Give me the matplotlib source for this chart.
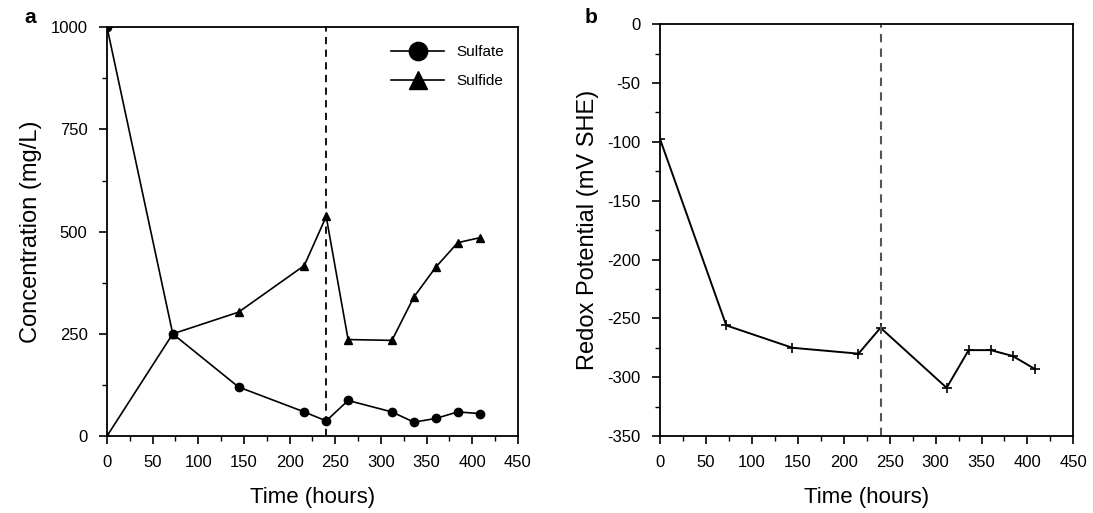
import numpy as np
import matplotlib.pyplot as plt
from matplotlib.ticker import MultipleLocator

plt.rcParams['font.family'] = ['Liberation Sans', 'DejaVu Sans']
plt.rcParams['axes.unicode_minus'] = False

# panel a
time_a = [0, 72, 144, 216, 240, 264, 312, 336, 360, 384, 408]
sulfate = [1000, 250, 120, 59, 37, 87, 59, 34, 43, 59, 55]
time_s = [0, 72, 144, 216, 240, 264, 312, 336, 360, 384, 408]
sulfide = [0, 250, 303, 417, 537, 236, 234, 340, 413, 473, 485]

# panel b
time_b = [0, 72, 144, 216, 240, 312, 336, 360, 384, 408]
redox = [-98, -256, -275, -280, -258, -309, -277, -277, -282, -293]

switch_time = 240

fig = plt.figure(figsize=(10.93, 5.13), dpi=100)
ax1 = fig.add_axes([0.0979, 0.150, 0.376, 0.797])
ax2 = fig.add_axes([0.604, 0.150, 0.378, 0.803])

ax1.plot(time_a, sulfate, color='black', lw=1.2, marker='o', ms=6, label='Sulfate')
ax1.plot(time_s, sulfide, color='black', lw=1.2, marker='^', ms=6, label='Sulfide')
ax1.axvline(switch_time, color='black', lw=1.3, ls=(0, (4, 3)))
ax1.set_xlim(0, 450)
ax1.set_ylim(0, 1000)
ax1.yaxis.set_major_locator(MultipleLocator(250))
ax1.yaxis.set_minor_locator(MultipleLocator(125))
ax1.set_ylabel('Concentration (mg/L)', fontsize=17, labelpad=6)
leg = ax1.legend(loc='upper right', frameon=False, fontsize=11, markerscale=2.2,
                 handlelength=3.5, labelspacing=1.0, bbox_to_anchor=(1.0, 0.99))

ax2.plot(time_b, redox, color='black', lw=1.4, marker='+', ms=7, mew=1.2)
ax2.axvline(switch_time, color='#555555', lw=1.5, ls=(0, (4, 3)))
ax2.set_xlim(0, 450)
ax2.set_ylim(-350, 0)
ax2.yaxis.set_major_locator(MultipleLocator(50))
ax2.yaxis.set_minor_locator(MultipleLocator(25))
ax2.set_ylabel('Redox Potential (mV SHE)', fontsize=17, labelpad=6)

for ax in (ax1, ax2):
    ax.xaxis.set_major_locator(MultipleLocator(50))
    ax.xaxis.set_minor_locator(MultipleLocator(25))
    ax.set_xlabel('Time (hours)', fontsize=16, labelpad=12)
    ax.tick_params(which='major', direction='out', length=6, width=1.2, labelsize=12, pad=8)
    ax.tick_params(which='minor', direction='out', length=3.5, width=1.0)
    ax.tick_params(top=False, right=False)
    for s in ax.spines.values():
        s.set_linewidth(1.3)

fig.text(0.022, 0.965, 'a', fontsize=15, fontweight='bold', ha='left', va='center')
fig.text(0.535, 0.965, 'b', fontsize=15, fontweight='bold', ha='left', va='center')

fig.savefig('out.png', dpi=100)
